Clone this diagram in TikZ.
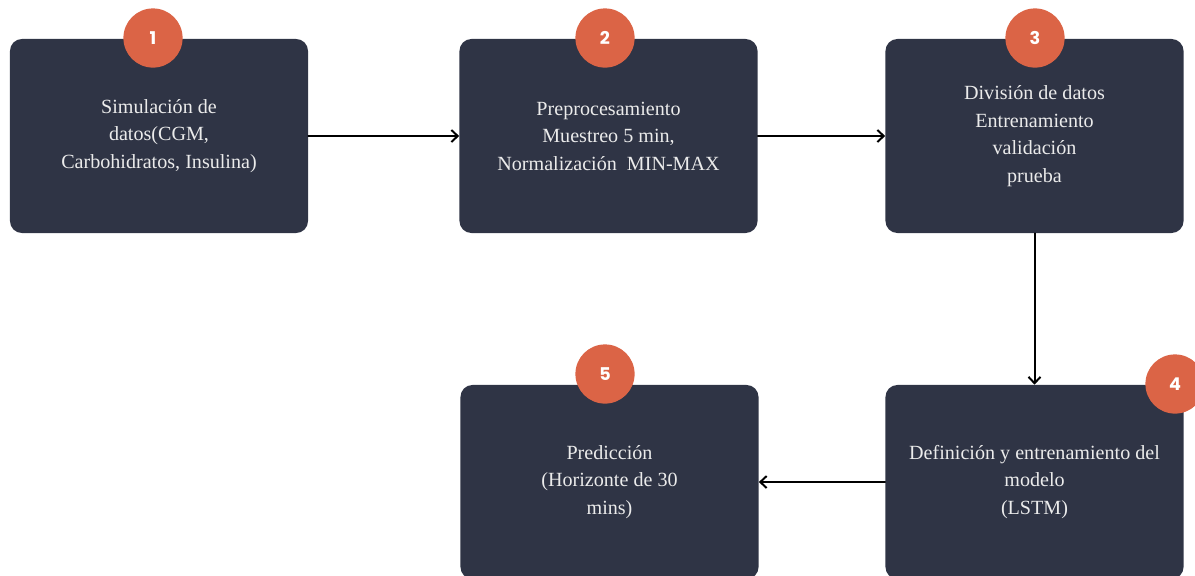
\documentclass[tikz,border=0pt]{standalone}
\usepackage{fontspec}
\setmainfont{Liberation Serif}
\newfontfamily\numfont{Poppins}
\usetikzlibrary{arrows.meta}

\definecolor{boxnavy}{HTML}{2F3445}
\definecolor{badgeorange}{HTML}{DB6446}
\definecolor{boxtext}{HTML}{EBEBEB}

\begin{document}
\begin{tikzpicture}[
			x=0.025cm, y=-0.025cm,
			line cap=round,
			line join=round,
			stage/.style={fill=boxnavy, rounded corners=0.3cm, minimum width=7.45cm,
				minimum height=4.85cm, align=center, text=boxtext,
				font=\fontsize{14.3}{19.6}\selectfont},
			badge/.style={circle, fill=badgeorange, minimum size=1.48cm, inner sep=0pt,
				text=white, font=\numfont\bfseries\fontsize{12.5}{14}\selectfont},
			flow/.style={-{Straight Barb[length=1.6mm, width=3mm, line width=1.4pt]}, line width=1.4pt}
			]
			\useasboundingbox (0,0) rectangle (1195,575);
			\clip (0,0) rectangle (1195,575);
			
			% Stages
			\node[stage] (sim) at (159,136) {Simulación de\\datos(CGM,\\Carbohidratos, Insulina)};
			\node[stage] (prep) at (608.5,136) {Preprocesamiento\\Muestreo 5 min,\\Normalización\ \ MIN-MAX};
			\node[stage] (split) at (1034.5,136) {División de datos\\Entrenamiento\\validación\\prueba};
			\node[stage] (lstm) at (1034.5,482) {Definición y entrenamiento del\\modelo\\(LSTM)};
			\node[stage] (pred) at (609.5,482) {Predicción\\(Horizonte de 30\\mins)};
			
			% Step numbers
			\node[badge] (n1) at (153,38) {1};
			\node[badge] (n2) at (605,38) {2};
			\node[badge] (n3) at (1035,38) {3};
			\node[badge] (n4) at (1175,384) {4};
			\node[badge] (n5) at (605,374) {5};
			
			% Flow between stages
			\draw[flow] (sim) -- (prep);
			\draw[flow] (prep) -- (split);
			\draw[flow] (split) -- (lstm);
			\draw[flow] (lstm) -- (pred);
		\end{tikzpicture}
\end{document}
